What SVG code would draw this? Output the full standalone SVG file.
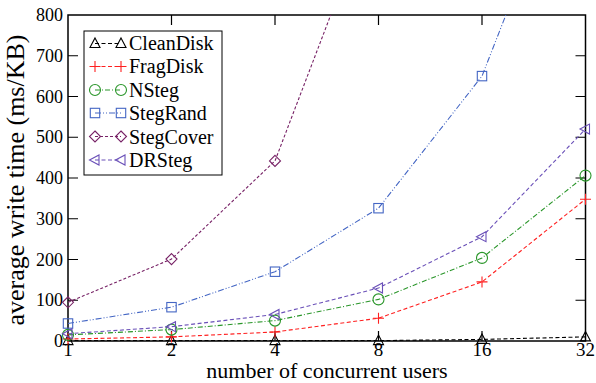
<svg xmlns="http://www.w3.org/2000/svg" width="596" height="383" viewBox="0 0 596 383" font-family="'Liberation Serif', 'DejaVu Serif', serif">
<style>
text{font-family:"Liberation Serif","DejaVu Serif",serif;fill:#000}
.tl{font-size:18px}
.xt{font-size:19px}
.yl{text-anchor:end}
.xl{text-anchor:middle}
.title{font-size:22px}
.ytitle{font-size:26px}
.leg{font-size:20px}
.tick{stroke:#000;stroke-width:1.2;fill:none}
.s{fill:none;stroke-width:1.1}
.clean{stroke:#000;stroke-dasharray:4 2.5}
.frag{stroke:#ff2020;stroke-dasharray:4 2.5}
.nsteg{stroke:#2a962a;stroke-dasharray:5 2 1 2}
.rand{stroke:#4466c4;stroke-dasharray:6 2 1 2 1 2}
.cover{stroke:#772266;stroke-dasharray:3 2}
.dr{stroke:#6a50b8;stroke-dasharray:4 2.5}
.m{fill:none;stroke-width:1.1}
</style>
<defs>
<clipPath id="plot"><rect x="68" y="15" width="517.5" height="326"/></clipPath>
<path id="tri" d="M0,-5.5 L5,4 L-5,4 Z"/>
<path id="plus" d="M-5.5,0 H5.5 M0,-5.5 V5.5"/>
<circle id="circ" r="5.5"/>
<rect id="sq" x="-4.7" y="-4.7" width="9.4" height="9.4"/>
<path id="dia" d="M0,-5.5 L5.5,0 L0,5.5 L-5.5,0 Z"/>
<path id="ltri" d="M-5.5,0 L4,-5 L4,5 Z"/>
</defs>
<rect width="596" height="383" fill="#fff"/>

<g id="axes">
<rect x="68" y="15" width="517.5" height="326" fill="none" stroke="#000" stroke-width="1.5"/>
<path class="tick" d="M68,300.25h10M68,259.5h10M68,218.75h10M68,178h10M68,137.25h10M68,96.5h10M68,55.75h10
M585.5,300.25h-10M585.5,259.5h-10M585.5,218.75h-10M585.5,178h-10M585.5,137.25h-10M585.5,96.5h-10M585.5,55.75h-10
M171.5,341v-10M275,341v-10M378.5,341v-10M482,341v-10
M171.5,15v10M275,15v10M378.5,15v10M482,15v10"/>
<g class="tl yl">
<text x="63" y="347">0</text>
<text x="63" y="306">100</text>
<text x="63" y="265.5">200</text>
<text x="63" y="224.5">300</text>
<text x="63" y="184">400</text>
<text x="63" y="143">500</text>
<text x="63" y="102.5">600</text>
<text x="63" y="61.5">700</text>
<text x="63" y="21">800</text>
</g>
<g class="xt xl">
<text x="68" y="356">1</text>
<text x="171.5" y="356">2</text>
<text x="275" y="356">4</text>
<text x="378.5" y="356">8</text>
<text x="482" y="356">16</text>
<text x="585.5" y="356">32</text>
</g>
<text class="title xl" x="327" y="378">number of concurrent users</text>
<text class="ytitle xl" transform="translate(24,180) rotate(-90)">average write time (ms/KB)</text>
</g>

<g id="connectors" clip-path="url(#plot)">
<polyline class="s clean" points="68,340.6 171.5,340.6 275,340.6 378.5,340.6 482,339.4 585.5,336.9"/>
<polyline class="s frag" points="68,339 171.5,336.9 275,332 378.5,318.2 482,281.9 585.5,199.2"/>
<polyline class="s nsteg" points="68,334.9 171.5,329.6 275,320.6 378.5,299.4 482,257.9 585.5,175.6"/>
<polyline class="s rand" points="68,323.5 171.5,307.2 275,271.7 378.5,208.2 482,76.1 585.5,-188.8"/>
<polyline class="s cover" points="68,302.3 171.5,259.1 275,160.9 378.5,-110"/>
<polyline class="s dr" points="68,333.7 171.5,326.7 275,314.5 378.5,288 482,236.7 585.5,129.1"/>
</g>

<g id="CleanDisk" class="m" stroke="#000">
<use href="#tri" x="68" y="340.6"/><use href="#tri" x="171.5" y="340.6"/><use href="#tri" x="275" y="340.6"/><use href="#tri" x="378.5" y="340.6"/><use href="#tri" x="482" y="339.4"/><use href="#tri" x="585.5" y="336.9"/>
</g>
<g id="FragDisk" class="m" stroke="#ff2020">
<use href="#plus" x="68" y="339"/><use href="#plus" x="171.5" y="336.9"/><use href="#plus" x="275" y="332"/><use href="#plus" x="378.5" y="318.2"/><use href="#plus" x="482" y="281.9"/><use href="#plus" x="585.5" y="199.2"/>
</g>
<g id="NSteg" class="m" stroke="#2a962a">
<use href="#circ" x="68" y="334.9"/><use href="#circ" x="171.5" y="329.6"/><use href="#circ" x="275" y="320.6"/><use href="#circ" x="378.5" y="299.4"/><use href="#circ" x="482" y="257.9"/><use href="#circ" x="585.5" y="175.6"/>
</g>
<g id="StegRand" class="m" stroke="#4466c4">
<use href="#sq" x="68" y="323.5"/><use href="#sq" x="171.5" y="307.2"/><use href="#sq" x="275" y="271.7"/><use href="#sq" x="378.5" y="208.2"/><use href="#sq" x="482" y="76.1"/>
</g>
<g id="StegCover" class="m" stroke="#772266">
<use href="#dia" x="68" y="302.3"/><use href="#dia" x="171.5" y="259.1"/><use href="#dia" x="275" y="160.9"/>
</g>
<g id="DRSteg" class="m" stroke="#6a50b8">
<use href="#ltri" x="68" y="333.7"/><use href="#ltri" x="171.5" y="326.7"/><use href="#ltri" x="275" y="314.5"/><use href="#ltri" x="378.5" y="288"/><use href="#ltri" x="482" y="236.7"/><use href="#ltri" x="585.5" y="129.1"/>
</g>

<g id="legend">
<rect x="84" y="31" width="138" height="144" fill="#fff" stroke="#000" stroke-width="1"/>
<g class="m" stroke="#000"><path class="s clean" d="M95,43.5H121"/><use href="#tri" x="95" y="43.5"/><use href="#tri" x="121" y="43.5"/></g>
<g class="m" stroke="#ff2020"><path class="s frag" d="M95,66.5H121"/><use href="#plus" x="95" y="66.5"/><use href="#plus" x="121" y="66.5"/></g>
<g class="m" stroke="#2a962a"><path class="s nsteg" d="M95,90H121"/><use href="#circ" x="95" y="90"/><use href="#circ" x="121" y="90"/></g>
<g class="m" stroke="#4466c4"><path class="s rand" d="M95,113H121"/><use href="#sq" x="95" y="113"/><use href="#sq" x="121" y="113"/></g>
<g class="m" stroke="#772266"><path class="s cover" d="M95,136.5H121"/><use href="#dia" x="95" y="136.5"/><use href="#dia" x="121" y="136.5"/></g>
<g class="m" stroke="#6a50b8"><path class="s dr" d="M95,160H121"/><use href="#ltri" x="95" y="160"/><use href="#ltri" x="121" y="160"/></g>
<g class="leg">
<text x="129" y="50">CleanDisk</text>
<text x="129" y="73">FragDisk</text>
<text x="129" y="96.5">NSteg</text>
<text x="129" y="120">StegRand</text>
<text x="129" y="143.5">StegCover</text>
<text x="129" y="167">DRSteg</text>
</g>
</g>
</svg>
